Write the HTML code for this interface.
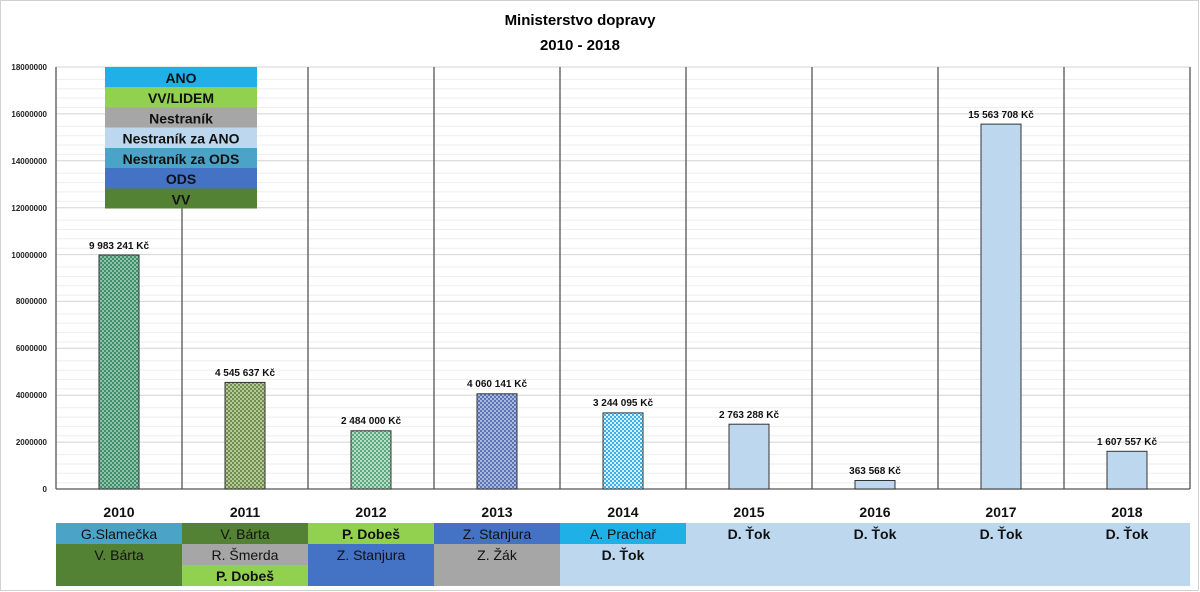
<!DOCTYPE html>
<html><head><meta charset="utf-8"><style>
body{margin:0;background:#fff}
svg{display:block;font-family:"Liberation Sans",sans-serif}
</style></head><body>
<svg width="1200" height="592" viewBox="0 0 1200 592" xmlns="http://www.w3.org/2000/svg">
<defs>
<pattern id="p0" width="4" height="4" patternUnits="userSpaceOnUse"><rect width="4" height="4" fill="#3f8f6f"/><rect width="2" height="2" fill="#8fc0a8"/><rect x="2" y="2" width="2" height="2" fill="#8fc0a8"/></pattern>
<pattern id="p1" width="4" height="4" patternUnits="userSpaceOnUse"><rect width="4" height="4" fill="#6e8f4a"/><rect width="2" height="2" fill="#b5c99a"/><rect x="2" y="2" width="2" height="2" fill="#b5c99a"/></pattern>
<pattern id="p2" width="4" height="4" patternUnits="userSpaceOnUse"><rect width="4" height="4" fill="#5aa880"/><rect width="2" height="2" fill="#b8dcc6"/><rect x="2" y="2" width="2" height="2" fill="#b8dcc6"/></pattern>
<pattern id="p3" width="4" height="4" patternUnits="userSpaceOnUse"><rect width="4" height="4" fill="#5a74b8"/><rect width="2" height="2" fill="#a9b8dc"/><rect x="2" y="2" width="2" height="2" fill="#a9b8dc"/></pattern>
<pattern id="p4" width="4" height="4" patternUnits="userSpaceOnUse"><rect width="4" height="4" fill="#3bb0e8"/><rect width="2" height="2" fill="#d8f0fb"/><rect x="2" y="2" width="2" height="2" fill="#d8f0fb"/></pattern>
</defs>
<rect x="0.5" y="0.5" width="1198" height="590" fill="#fff" stroke="#d0d0d0"/>
<text x="580" y="25" text-anchor="middle" font-size="15" font-weight="bold">Ministerstvo dopravy</text>
<text x="580" y="50" text-anchor="middle" font-size="15" font-weight="bold">2010 - 2018</text>
<!-- minor grid -->
<g stroke="#ececec" stroke-width="1">
<script></script>
</g>
<g id="grid"></g>
<g stroke="#eeeeee">
<line x1="56" x2="1190" y1="79.4" y2="79.4"/><line x1="56" x2="1190" y1="88.8" y2="88.8"/><line x1="56" x2="1190" y1="98.1" y2="98.1"/><line x1="56" x2="1190" y1="107.5" y2="107.5"/>
<line x1="56" x2="1190" y1="126.3" y2="126.3"/><line x1="56" x2="1190" y1="135.7" y2="135.7"/><line x1="56" x2="1190" y1="145" y2="145"/><line x1="56" x2="1190" y1="154.4" y2="154.4"/>
<line x1="56" x2="1190" y1="173.2" y2="173.2"/><line x1="56" x2="1190" y1="182.6" y2="182.6"/><line x1="56" x2="1190" y1="191.9" y2="191.9"/><line x1="56" x2="1190" y1="201.3" y2="201.3"/>
<line x1="56" x2="1190" y1="220.1" y2="220.1"/><line x1="56" x2="1190" y1="229.5" y2="229.5"/><line x1="56" x2="1190" y1="238.8" y2="238.8"/><line x1="56" x2="1190" y1="248.2" y2="248.2"/>
<line x1="56" x2="1190" y1="267" y2="267"/><line x1="56" x2="1190" y1="276.4" y2="276.4"/><line x1="56" x2="1190" y1="285.7" y2="285.7"/><line x1="56" x2="1190" y1="295.1" y2="295.1"/>
<line x1="56" x2="1190" y1="313.9" y2="313.9"/><line x1="56" x2="1190" y1="323.3" y2="323.3"/><line x1="56" x2="1190" y1="332.6" y2="332.6"/><line x1="56" x2="1190" y1="342" y2="342"/>
<line x1="56" x2="1190" y1="360.8" y2="360.8"/><line x1="56" x2="1190" y1="370.2" y2="370.2"/><line x1="56" x2="1190" y1="379.5" y2="379.5"/><line x1="56" x2="1190" y1="388.9" y2="388.9"/>
<line x1="56" x2="1190" y1="407.7" y2="407.7"/><line x1="56" x2="1190" y1="417.1" y2="417.1"/><line x1="56" x2="1190" y1="426.4" y2="426.4"/><line x1="56" x2="1190" y1="435.8" y2="435.8"/>
<line x1="56" x2="1190" y1="454.6" y2="454.6"/><line x1="56" x2="1190" y1="464" y2="464"/><line x1="56" x2="1190" y1="473.3" y2="473.3"/><line x1="56" x2="1190" y1="482.7" y2="482.7"/>
</g>
<g stroke="#d4d4d4">
<line x1="56" x2="1190" y1="67" y2="67"/><line x1="56" x2="1190" y1="113.9" y2="113.9"/><line x1="56" x2="1190" y1="160.8" y2="160.8"/><line x1="56" x2="1190" y1="207.7" y2="207.7"/><line x1="56" x2="1190" y1="254.6" y2="254.6"/><line x1="56" x2="1190" y1="301.4" y2="301.4"/><line x1="56" x2="1190" y1="348.3" y2="348.3"/><line x1="56" x2="1190" y1="395.2" y2="395.2"/><line x1="56" x2="1190" y1="442.1" y2="442.1"/>
</g>
<g stroke="#555" stroke-width="1.3">
<line x1="56" x2="56" y1="67" y2="489"/><line x1="182" x2="182" y1="67" y2="489"/><line x1="308" x2="308" y1="67" y2="489"/><line x1="434" x2="434" y1="67" y2="489"/><line x1="560" x2="560" y1="67" y2="489"/><line x1="686" x2="686" y1="67" y2="489"/><line x1="812" x2="812" y1="67" y2="489"/><line x1="938" x2="938" y1="67" y2="489"/><line x1="1064" x2="1064" y1="67" y2="489"/><line x1="1190" x2="1190" y1="67" y2="489"/>
<line x1="56" x2="1190" y1="489" y2="489"/>
</g>
<g font-size="8" font-weight="bold" text-anchor="end" fill="#222">
<text x="47" y="70">18000000</text><text x="47" y="117">16000000</text><text x="47" y="164">14000000</text><text x="47" y="211">12000000</text><text x="47" y="258">10000000</text><text x="47" y="304">8000000</text><text x="47" y="351">6000000</text><text x="47" y="398">4000000</text><text x="47" y="445">2000000</text><text x="47" y="492">0</text>
</g>
<g stroke="#333" stroke-width="1">
<rect x="99" y="255" width="40" height="234" fill="url(#p0)"/>
<rect x="225" y="382.4" width="40" height="106.6" fill="url(#p1)"/>
<rect x="351" y="430.8" width="40" height="58.2" fill="url(#p2)"/>
<rect x="477" y="393.8" width="40" height="95.2" fill="url(#p3)"/>
<rect x="603" y="412.9" width="40" height="76.1" fill="url(#p4)"/>
<rect x="729" y="424.2" width="40" height="64.8" fill="#bdd7ee"/>
<rect x="855" y="480.5" width="40" height="8.5" fill="#bdd7ee"/>
<rect x="981" y="124.1" width="40" height="364.9" fill="#bdd7ee"/>
<rect x="1107" y="451.3" width="40" height="37.7" fill="#bdd7ee"/>
</g>
<g font-size="10" font-weight="bold" text-anchor="middle" fill="#111">
<text x="119" y="249">9 983 241 Kč</text>
<text x="245" y="376">4 545 637 Kč</text>
<text x="371" y="424">2 484 000 Kč</text>
<text x="497" y="387">4 060 141 Kč</text>
<text x="623" y="406">3 244 095 Kč</text>
<text x="749" y="418">2 763 288 Kč</text>
<text x="875" y="474">363 568 Kč</text>
<text x="1001" y="118">15 563 708 Kč</text>
<text x="1127" y="445">1 607 557 Kč</text>
</g>
<!-- legend -->
<g font-size="14" font-weight="bold" text-anchor="middle" fill="#111">
<rect x="105" y="67" width="152" height="20" fill="#1fb0e8"/><text x="181" y="83">ANO</text>
<rect x="105" y="87" width="152" height="20.5" fill="#92d050"/><text x="181" y="103">VV/LIDEM</text>
<rect x="105" y="107.5" width="152" height="20" fill="#a6a6a6"/><text x="181" y="123.5">Nestraník</text>
<rect x="105" y="127.5" width="152" height="20.5" fill="#bdd7ee"/><text x="181" y="143.5">Nestraník za ANO</text>
<rect x="105" y="148" width="152" height="20" fill="#4ba3c8"/><text x="181" y="164">Nestraník za ODS</text>
<rect x="105" y="168" width="152" height="20.5" fill="#4472c4"/><text x="181" y="184">ODS</text>
<rect x="105" y="188.5" width="152" height="20" fill="#548235"/><text x="181" y="204.5">VV</text>
</g>
<g font-size="14" font-weight="bold" text-anchor="middle" fill="#111">
<text x="119" y="517">2010</text><text x="245" y="517">2011</text><text x="371" y="517">2012</text><text x="497" y="517">2013</text><text x="623" y="517">2014</text><text x="749" y="517">2015</text><text x="875" y="517">2016</text><text x="1001" y="517">2017</text><text x="1127" y="517">2018</text>
</g>
<g>
<rect x="56" y="523" width="126" height="21" fill="#4ba3c8"/>
<rect x="56" y="544" width="126" height="42" fill="#548235"/>
<rect x="182" y="523" width="126" height="21" fill="#548235"/>
<rect x="182" y="544" width="126" height="21" fill="#a6a6a6"/>
<rect x="182" y="565" width="126" height="21" fill="#92d050"/>
<rect x="308" y="523" width="126" height="21" fill="#92d050"/>
<rect x="308" y="544" width="126" height="42" fill="#4472c4"/>
<rect x="434" y="523" width="126" height="21" fill="#4472c4"/>
<rect x="434" y="544" width="126" height="42" fill="#a6a6a6"/>
<rect x="560" y="523" width="630" height="63" fill="#bdd7ee"/>
<rect x="560" y="523" width="126" height="21" fill="#1fb0e8"/>
</g>
<g font-size="14" text-anchor="middle" fill="#111">
<text x="119" y="539">G.Slamečka</text><text x="119" y="560">V. Bárta</text>
<text x="245" y="539">V. Bárta</text><text x="245" y="560">R. Šmerda</text><text x="245" y="581" font-weight="bold">P. Dobeš</text>
<text x="371" y="539" font-weight="bold">P. Dobeš</text><text x="371" y="560">Z. Stanjura</text>
<text x="497" y="539">Z. Stanjura</text><text x="497" y="560">Z. Žák</text>
<text x="623" y="539">A. Prachař</text><text x="623" y="560" font-weight="bold">D. Ťok</text>
<text x="749" y="539" font-weight="bold">D. Ťok</text><text x="875" y="539" font-weight="bold">D. Ťok</text><text x="1001" y="539" font-weight="bold">D. Ťok</text><text x="1127" y="539" font-weight="bold">D. Ťok</text>
</g>
</svg>
</body></html>
